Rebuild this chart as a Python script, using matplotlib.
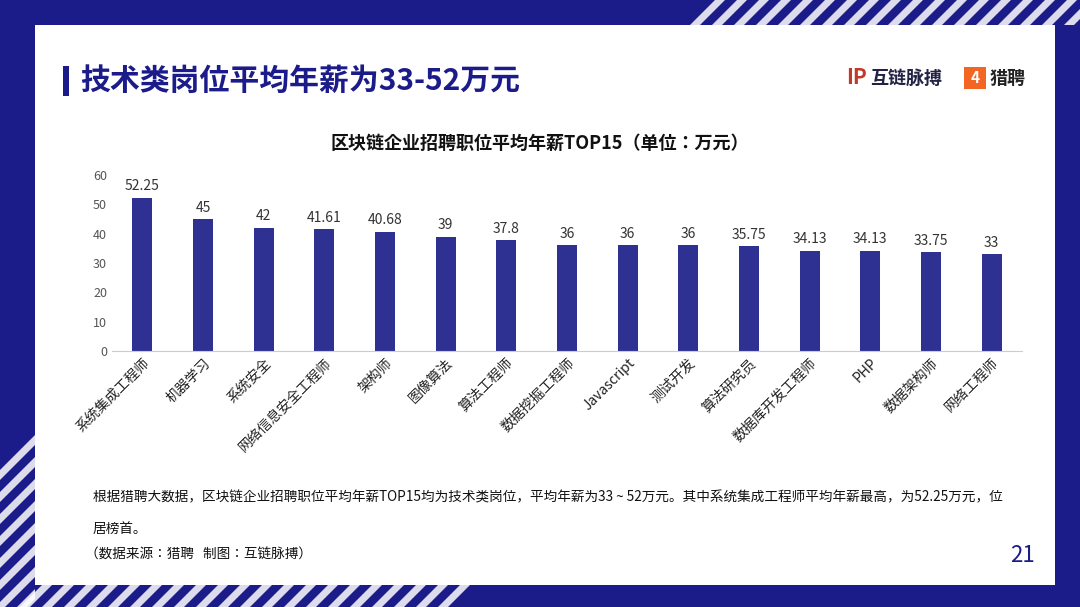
import matplotlib
matplotlib.use("Agg")
import matplotlib.pyplot as plt
from matplotlib.patches import Rectangle, Polygon
from matplotlib import font_manager as fm

for f in fm.findSystemFonts():
    if "CJK" in f and ("Regular" in f or "Bold" in f):
        try:
            fm.fontManager.addfont(f)
        except Exception:
            pass
names = sorted({e.name for e in fm.fontManager.ttflist if "CJK" in e.name})
cjk = next((n for n in names if "SC" in n), names[0] if names else "DejaVu Sans")
plt.rcParams['font.family'] = [cjk, 'DejaVu Sans']

categories = ["系统集成工程师", "机器学习", "系统安全", "网络信息安全工程师", "架构师", "图像算法",
              "算法工程师", "数据挖掘工程师", "Javascript", "测试开发", "算法研究员",
              "数据库开发工程师", "PHP", "数据架构师", "网络工程师"]
values = [52.25, 45, 42, 41.61, 40.68, 39, 37.8, 36, 36, 36, 35.75, 34.13, 34.13, 33.75, 33]
value_labels = ["52.25", "45", "42", "41.61", "40.68", "39", "37.8", "36", "36", "36", "35.75",
                "34.13", "34.13", "33.75", "33"]
yticks = [0, 10, 20, 30, 40, 50, 60]

W, H = 1080, 607
NAVY = "#1b1b8a"
BAR = "#2e3192"
fig = plt.figure(figsize=(10.8, 6.07), dpi=100)
fig.patch.set_facecolor(NAVY)

def px(x, y):
    return (x / W, 1 - y / H)

for i in range(30):
    x0 = 690 + i * 22
    pts = [px(x0, 25), px(x0 + 10, 25), px(x0 + 35, 0), px(x0 + 25, 0)]
    fig.patches.append(Polygon(pts, closed=True, transform=fig.transFigure,
                               facecolor="white", edgecolor="none", alpha=0.85))
for i in range(12):
    y0 = 470 + i * 22
    pts = [px(0, y0), px(0, y0 + 10), px(35, y0 - 25), px(35, y0 - 35)]
    fig.patches.append(Polygon(pts, closed=True, transform=fig.transFigure,
                               facecolor="white", edgecolor="none", alpha=0.85))
for i in range(20):
    x0 = 20 + i * 22
    pts = [px(x0, 607), px(x0 + 10, 607), px(x0 + 32, 585), px(x0 + 22, 585)]
    fig.patches.append(Polygon(pts, closed=True, transform=fig.transFigure,
                               facecolor="white", edgecolor="none", alpha=0.85))

fig.patches.append(Rectangle(px(35, 585), 1020 / W, 560 / H, transform=fig.transFigure,
                             facecolor="white", edgecolor="none", zorder=1))
fig.patches.append(Rectangle(px(63, 96), 6 / W, 30 / H, transform=fig.transFigure,
                             facecolor=NAVY, edgecolor="none", zorder=2))

fig.text(*px(80, 81), "技术类岗位平均年薪为33-52万元", fontsize=21.5, fontweight="bold",
         color=NAVY, va="center", ha="left", zorder=3)
fig.text(*px(870, 78), "互链脉搏", fontsize=13, fontweight="bold", color="#222244",
         va="center", ha="left", zorder=3)
fig.text(*px(856, 78), "IP", fontsize=15, fontweight="bold", color="#c0392b",
         va="center", ha="center", zorder=3)
fig.patches.append(Rectangle(px(964, 89), 22 / W, 22 / H, transform=fig.transFigure,
                             facecolor="#f26522", edgecolor="none", zorder=2))
fig.text(*px(975, 78), "4", fontsize=11, fontweight="bold", color="white",
         va="center", ha="center", zorder=3)
fig.text(*px(990, 78), "猎聘", fontsize=13, fontweight="bold", color="#222222",
         va="center", ha="left", zorder=3)

fig.text(*px(540, 143), "区块链企业招聘职位平均年薪TOP15（单位：万元）", fontsize=13,
         fontweight="bold", color="#111111", va="center", ha="center", zorder=3)

ax = fig.add_axes([112 / W, 1 - 351 / H, 910 / W, 176 / H], zorder=3)
ax.set_facecolor("none")
x = range(len(categories))
ax.bar(x, values, width=0.33, color=BAR)
for xi, v, lab in zip(x, values, value_labels):
    ax.text(xi, v + 1.5, lab, ha="center", va="bottom", fontsize=10, color="#333333")
ax.set_ylim(0, 60)
ax.set_xlim(-0.5, len(categories) - 0.5)
ax.set_yticks(yticks)
ax.tick_params(axis="y", length=0, labelsize=9, labelcolor="#555555")
ax.tick_params(axis="x", length=0, labelsize=10, labelcolor="#222222")
ax.set_xticks(list(x))
ax.set_xticklabels(categories, rotation=45, ha="right", rotation_mode="anchor")
for s in ["top", "right", "left"]:
    ax.spines[s].set_visible(False)
ax.spines["bottom"].set_color("#cccccc")

fig.text(*px(93, 497), "根据猎聘大数据，区块链企业招聘职位平均年薪TOP15均为技术类岗位，平均年薪为33 ~ 52万元。其中系统集成工程师平均年薪最高，为52.25万元，位",
         fontsize=9.8, color="#111111", va="center", ha="left", zorder=3)
fig.text(*px(93, 529), "居榜首。", fontsize=9.8, color="#111111", va="center", ha="left", zorder=3)
fig.text(*px(85, 555), "（数据来源：猎聘   制图：互链脉搏）", fontsize=9.8, color="#111111",
         va="center", ha="left", zorder=3)
fig.text(*px(1022, 555), "21", fontsize=16, color=NAVY, va="center", ha="center", zorder=3)

fig.savefig("out.png", dpi=100, facecolor=fig.get_facecolor())
